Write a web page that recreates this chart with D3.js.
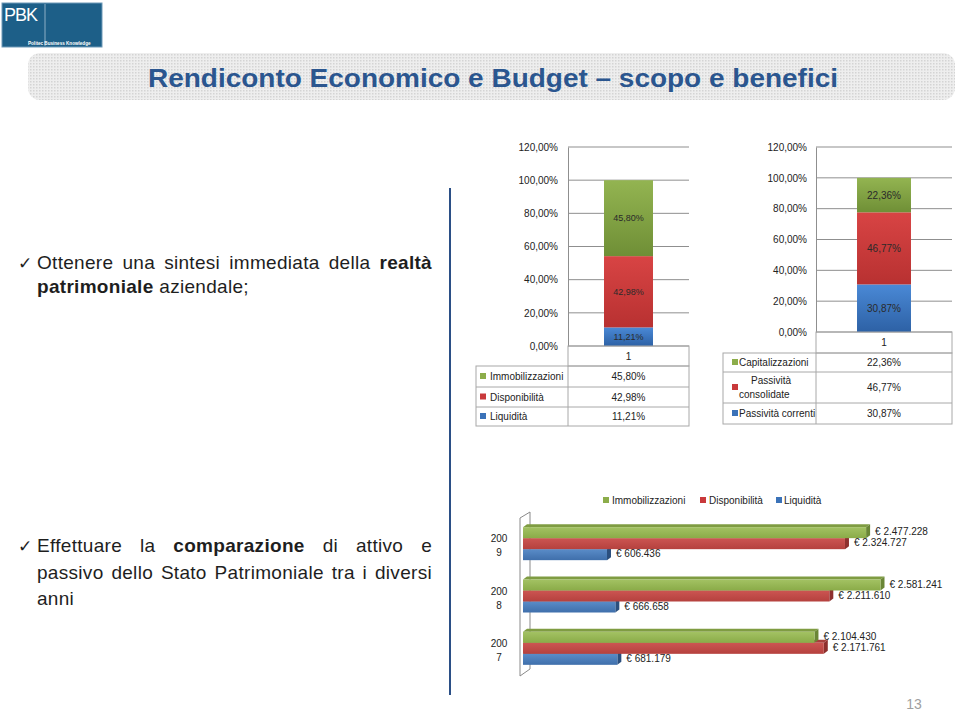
<!DOCTYPE html>
<html><head><meta charset="utf-8">
<script src="https://cdn.jsdelivr.net/npm/d3@7"></script>
<style>body{margin:0;background:#fff} svg{display:block} text{font-family:"Liberation Sans",Arial,sans-serif}</style>
</head><body><svg id="c" width="959" height="711"></svg>
<script>
// ---------- DATA ----------
const titleText = "Rendiconto Economico e Budget \u2013 scopo e benefici";
const attivoLabels = ["Immobilizzazioni", "Disponibilità", "Liquidità"];
const attivoValues = [45.80, 42.98, 11.21];
const passivoLabels = ["Capitalizzazioni", "Passività consolidate", "Passività correnti"];
const passivoValues = [22.36, 46.77, 30.87];
const percentTicks = [0, 20, 40, 60, 80, 100, 120];
const stackCategory = "1";
const years = ["2009", "2008", "2007"];
const seriesNames = ["Immobilizzazioni", "Disponibilità", "Liquidità"];
const immobilizzazioni = [2477228, 2581241, 2104430];
const disponibilita = [2324727, 2211610, 2171761];
const liquidita = [606436, 666658, 681179];

// ---------- SETUP ----------
const svg = d3.select("#c");
const defs = svg.append("defs");
const loc = d3.formatLocale({decimal: ",", thousands: ".", grouping: [3], currency: ["€", ""]});
const pct = v => loc.format(".2f")(v) + "%";
const eur = v => "€ " + loc.format(",d")(v);

function grad(id, c0, c1, horiz) {
  const g = defs.append("linearGradient").attr("id", id)
    .attr("x1", 0).attr("y1", 0).attr("x2", horiz ? 1 : 0).attr("y2", horiz ? 0 : 1);
  g.append("stop").attr("offset", "0").attr("stop-color", c0);
  g.append("stop").attr("offset", "1").attr("stop-color", c1);
}
grad("gGreen", "#93b451", "#6f8f36");
grad("gRed", "#d84444", "#b83131");
grad("gBlue", "#4a89d6", "#2d61a5");
grad("hGreen", "#a3c263", "#8aab48");
grad("hRed", "#cc5552", "#b5413e");
grad("hBlue", "#5a8cc8", "#3f6fab");
const stackFill = ["url(#gGreen)", "url(#gRed)", "url(#gBlue)"];
const keyFill = ["#8cad4a", "#c9393b", "#3b72b8"];
const barFill = ["url(#hGreen)", "url(#hRed)", "url(#hBlue)"];
const barSide = ["#6a8636", "#8e302e", "#2b4f7e"];
const barTop = ["#7f9c42", "#a8403d", "#3d6598"];

const pat = defs.append("pattern").attr("id", "dots").attr("width", 3).attr("height", 3)
  .attr("patternUnits", "userSpaceOnUse");
pat.append("rect").attr("width", 3).attr("height", 3).attr("fill", "#eeeeee");
pat.append("rect").attr("width", 1.5).attr("height", 1.5).attr("fill", "#d4d4d4");

// ---------- LOGO ----------
const logo = svg.append("g");
logo.append("rect").attr("x", 2).attr("y", 3).attr("width", 100).attr("height", 44)
  .attr("fill", "#1d5f88").attr("stroke", "#6f9ab8").attr("stroke-width", 1);
logo.append("line").attr("x1", 45).attr("x2", 45).attr("y1", 4).attr("y2", 46)
  .attr("stroke", "#a9c3d6").attr("stroke-width", 0.8);
logo.append("text").attr("x", 4).attr("y", 21).attr("fill", "#fff")
  .attr("font-size", 18).attr("letter-spacing", -1).text("PBK");
logo.append("text").attr("x", 28).attr("y", 45).attr("fill", "#fff")
  .attr("font-size", 4.6).attr("font-weight", "bold").text("Politec  Business Knowledge");

// ---------- TITLE BANNER ----------
svg.append("rect").attr("x", 28).attr("y", 53).attr("width", 927).attr("height", 47)
  .attr("rx", 12).attr("fill", "url(#dots)");
svg.append("text").attr("x", 148).attr("y", 87).attr("font-size", 26).attr("font-weight", "bold")
  .attr("fill", "#2b568f").attr("textLength", 690).attr("lengthAdjust", "spacingAndGlyphs")
  .text(titleText);

// ---------- DIVIDER ----------
svg.append("line").attr("x1", 450).attr("x2", 450).attr("y1", 188).attr("y2", 695)
  .attr("stroke", "#2b4f86").attr("stroke-width", 2);

// ---------- LEFT TEXT ----------
const bodySize = 19;
function line(words, x0, x1, y, justify) {
  const g = svg.append("g");
  const nodes = words.map(w => g.append("text").attr("y", y).attr("font-size", bodySize)
    .attr("fill", "#1e1e1e").attr("letter-spacing", 0.3)
    .attr("font-weight", w[1] ? "bold" : "normal").text(w[0]));
  const widths = nodes.map(n => n.node().getComputedTextLength());
  const total = d3.sum(widths);
  const gap = justify && words.length > 1 ? (x1 - x0 - total) / (words.length - 1) : bodySize * 0.3;
  let x = x0;
  nodes.forEach((n, i) => { n.attr("x", x); x += widths[i] + gap; });
}
function check(y) {
  svg.append("text").attr("x", 18).attr("y", y).attr("font-size", 17)
    .attr("font-family", "DejaVu Sans").attr("fill", "#1e1e1e").text("\u2713");
}
check(269);
line([["Ottenere"], ["una"], ["sintesi"], ["immediata"], ["della"], ["realtà", 1]], 37, 432, 269, true);
line([["patrimoniale", 1], ["aziendale;"]], 37, 432, 293, false);
check(552);
line([["Effettuare"], ["la"], ["comparazione", 1], ["di"], ["attivo"], ["e"]], 37, 432, 552, true);
line([["passivo"], ["dello"], ["Stato"], ["Patrimoniale"], ["tra"], ["i"], ["diversi"]], 37, 432, 579, true);
line([["anni"]], 37, 432, 605, false);

// ---------- STACKED PERCENT CHARTS ----------
function stackChart(cfg, labels, values) {
  const g = svg.append("g");
  const y = d3.scaleLinear().domain([0, 120]).range([cfg.yZero, cfg.yTop]);
  const x = d3.scaleBand().domain([stackCategory]).range([cfg.axisX, cfg.gridEnd])
    .paddingInner(0).paddingOuter(cfg.pad);
  // gridlines
  g.selectAll(".grid").data(percentTicks).join("line")
    .attr("x1", cfg.axisX).attr("x2", cfg.gridEnd).attr("y1", d => y(d)).attr("y2", d => y(d))
    .attr("stroke", "#8f8f8f").attr("stroke-width", 1);
  // axis
  const ax = g.append("g").attr("transform", `translate(${cfg.axisX},0)`)
    .call(d3.axisLeft(y).tickValues(percentTicks).tickSize(0).tickPadding(cfg.axisX - cfg.tickX).tickFormat(pct));
  ax.select(".domain").attr("stroke", "#8f8f8f");
  ax.selectAll("text").attr("font-size", 10).attr("fill", "#222").attr("font-family", '"Liberation Sans",Arial,sans-serif');
  // stacked bar (bottom -> top is reversed order)
  let base = 0;
  const order = [2, 1, 0];
  order.forEach(i => {
    const v = values[i];
    g.append("rect").attr("x", x(stackCategory)).attr("width", x.bandwidth())
      .attr("y", y(base + v)).attr("height", y(base) - y(base + v)).attr("fill", stackFill[i]);
    g.append("text").attr("x", x(stackCategory) + x.bandwidth() / 2).attr("y", y(base + v / 2))
      .attr("dy", "0.35em").attr("text-anchor", "middle").attr("font-size", cfg.segSize)
      .attr("fill", "#2a2a2a").text(pct(v));
    base += v;
  });
  // data table
  const bc = "#a8a8a8";
  const cx = (cfg.axisX + cfg.gridEnd) / 2;
  g.append("rect").attr("x", cfg.axisX).attr("y", cfg.yZero).attr("width", cfg.gridEnd - cfg.axisX)
    .attr("height", cfg.catBottom - cfg.yZero).attr("fill", "none").attr("stroke", bc);
  g.append("text").attr("x", cx).attr("y", (cfg.yZero + cfg.catBottom) / 2).attr("dy", "0.35em")
    .attr("text-anchor", "middle").attr("font-size", 10).attr("fill", "#222").text(stackCategory);
  const rows = cfg.rows;
  g.append("rect").attr("x", cfg.tableLeft).attr("y", rows[0]).attr("width", cfg.gridEnd - cfg.tableLeft)
    .attr("height", rows[3] - rows[0]).attr("fill", "none").attr("stroke", bc);
  g.append("line").attr("x1", cfg.axisX).attr("x2", cfg.axisX).attr("y1", rows[0]).attr("y2", rows[3]).attr("stroke", bc);
  [1, 2].forEach(k => g.append("line").attr("x1", cfg.tableLeft).attr("x2", cfg.gridEnd)
    .attr("y1", rows[k]).attr("y2", rows[k]).attr("stroke", bc));
  labels.forEach((lab, i) => {
    const cy = (rows[i] + rows[i + 1]) / 2;
    g.append("rect").attr("x", cfg.keyX).attr("y", cy - 3.5).attr("width", 6).attr("height", 6).attr("fill", keyFill[i]);
    const t = g.append("text").attr("font-size", 10).attr("fill", "#222");
    const maxW = cfg.axisX - cfg.textX + 8;
    t.text(lab);
    if (t.node().getComputedTextLength() > maxW && lab.includes(" ")) {
      const parts = lab.split(" ");
      t.text(null);
      t.append("tspan").attr("x", cfg.textX + 12).attr("y", cy - 7 + 3.5).text(parts[0]);
      t.append("tspan").attr("x", cfg.textX).attr("y", cy + 7 + 3.5).text(parts.slice(1).join(" "));
    } else {
      t.attr("x", cfg.textX).attr("y", cy).attr("dy", "0.35em");
    }
    g.append("text").attr("x", cx).attr("y", cy).attr("dy", "0.35em").attr("text-anchor", "middle")
      .attr("font-size", 10).attr("fill", "#222").text(pct(values[i]));
  });
}
stackChart({axisX: 568, gridEnd: 689, yTop: 147, yZero: 346, tickX: 558, pad: 0.735,
  catBottom: 366, rows: [366, 387, 407, 426], tableLeft: 476, keyX: 480, textX: 490, segSize: 9},
  attivoLabels, attivoValues);
stackChart({axisX: 816, gridEnd: 952, yTop: 147, yZero: 332, tickX: 807, pad: 0.76,
  catBottom: 353, rows: [353, 372, 403, 424], tableLeft: 723, keyX: 732, textX: 739, segSize: 10},
  passivoLabels, passivoValues);

// ---------- 3D HORIZONTAL BAR CHART ----------
const series = [immobilizzazioni, disponibilita, liquidita];
const bx = d3.scaleLinear().domain([0, 3000000]).range([523, 938.5]);
const by = d3.scaleBand().domain(years).range([516, 673]);
const barH = 11;
const inner = d3.scaleBand().domain(seriesNames).range([0, barH * 3]);
const dx = 4, dy = 3;
const hb = svg.append("g");
// wall
hb.append("line").attr("x1", 530).attr("x2", 530).attr("y1", 512).attr("y2", 669).attr("stroke", "#8a8a8a");
hb.append("path").attr("d", "M530,512L520,518L520,676L530,669").attr("fill", "none").attr("stroke", "#8a8a8a");
// legend
const leg = [[603, 612], [700, 709], [776, 784]];
seriesNames.forEach((s, i) => {
  hb.append("rect").attr("x", leg[i][0]).attr("y", 497).attr("width", 6).attr("height", 6).attr("fill", keyFill[i]);
  hb.append("text").attr("x", leg[i][1]).attr("y", 500).attr("dy", "0.35em").attr("font-size", 10)
    .attr("fill", "#222").text(s);
});
years.forEach((yr, j) => {
  const off = by(yr) + (by.bandwidth() - barH * 3) / 2 + 1.5;
  const cy = by(yr) + by.bandwidth() / 2;
  hb.append("text").attr("x", 499).attr("y", cy - 3.5).attr("dy", "0.35em").attr("text-anchor", "middle")
    .attr("font-size", 10).attr("fill", "#222").text(yr.slice(0, 3));
  hb.append("text").attr("x", 499).attr("y", cy + 10.5).attr("dy", "0.35em").attr("text-anchor", "middle")
    .attr("font-size", 10).attr("fill", "#222").text(yr.slice(3));
  [2, 1, 0].forEach(i => {
    const v = series[i][j];
    const x0 = bx(0), x1 = bx(v);
    const y0 = off + inner(seriesNames[i]);
    hb.append("path").attr("d", `M${x0},${y0}L${x0 + dx},${y0 - dy}L${x1 + dx},${y0 - dy}L${x1},${y0}Z`).attr("fill", barTop[i]);
    hb.append("path").attr("d", `M${x1},${y0}L${x1 + dx},${y0 - dy}L${x1 + dx},${y0 + barH - dy}L${x1},${y0 + barH}Z`).attr("fill", barSide[i]);
    hb.append("rect").attr("x", x0).attr("y", y0).attr("width", x1 - x0).attr("height", barH).attr("fill", barFill[i]);
  });
  [0, 1, 2].forEach(i => {
    const v = series[i][j];
    const y0 = off + inner(seriesNames[i]);
    hb.append("text").attr("x", bx(v) + 9).attr("y", y0 + barH / 2 - 1).attr("dy", "0.35em")
      .attr("font-size", 10).attr("fill", "#222").text(eur(v));
  });
});

// ---------- PAGE NUMBER ----------
svg.append("text").attr("x", 914).attr("y", 709).attr("text-anchor", "middle").attr("font-size", 14)
  .attr("fill", "#a0a0a0").text("13");
</script></body></html>
